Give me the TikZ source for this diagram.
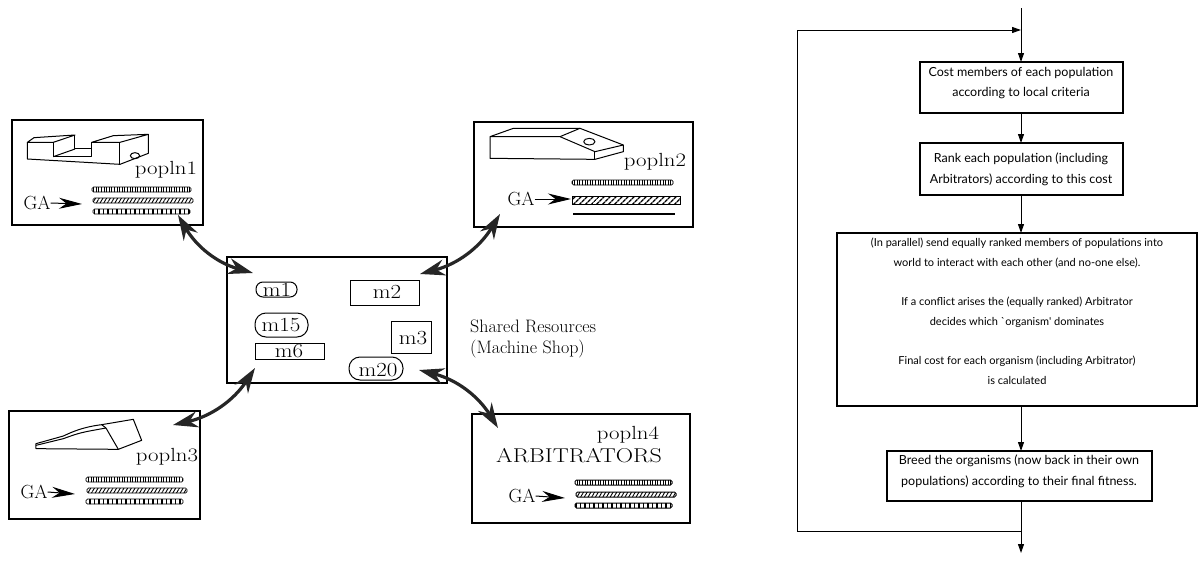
\documentclass[tikz,border=0pt]{standalone}
\usepackage{fontspec}
\newfontfamily\flowfont{Lato}
\usetikzlibrary{arrows.meta,patterns.meta,calc}
\newcommand{\wide}[1]{\scalebox{1.2}[1]{#1}}
\newcommand{\mwide}[1]{\scalebox{1.15}[1]{#1}}
\begin{document}
\begin{tikzpicture}[x=1pt,y=-1pt,
  pbox/.style={draw,line width=1.3pt,inner sep=0pt,outer sep=0pt},
  fbox/.style={draw,line width=1.1pt,inner sep=0pt,outer sep=0pt},
  lbl/.style={inner sep=0pt,font=\fontsize{19}{22}\selectfont},
  mlbl/.style={inner sep=0pt,font=\fontsize{20}{22}\selectfont},
  ftext/.style={inner sep=0pt,align=center,font=\flowfont\fontsize{12.5}{20.5}\selectfont},
  ftextsmall/.style={inner sep=0pt,align=center,font=\flowfont\fontsize{11}{20}\selectfont},
  mach/.style={draw,line width=1pt},
  pill/.style={draw,line width=1pt,rounded corners=7pt},
  barA/.style={draw,line width=0.7pt,rounded corners=1.5pt,pattern={Lines[angle=90,distance=2.6pt,line width=0.8pt]}},
  barB/.style={draw,line width=0.7pt,rounded corners=1.5pt,pattern={Lines[angle=60,distance=3.2pt,line width=0.9pt]}},
  barC/.style={draw,line width=0.7pt,rounded corners=1.5pt,pattern={Lines[angle=90,distance=4.5pt,line width=1.8pt]}},
  barD/.style={draw,line width=0.9pt,pattern={Lines[angle=45,distance=4pt,line width=1.6pt]}},
  gaarrow/.style={line width=1pt,arrows={-Stealth[length=23pt,width=11pt]}},
  dbl/.style={line width=3.2pt,draw=black!85,arrows={Stealth[length=25pt,width=16pt]-Stealth[length=25pt,width=16pt]}},
  farrow/.style={line width=1pt,arrows={-Triangle[length=9pt,width=6pt]}},
  icon/.style={line width=1pt,line join=round}
]
\useasboundingbox (0,0) rectangle (1199,562);

% ---------------- population boxes ----------------
\node[pbox,minimum width=191pt,minimum height=105pt] (p1) at (107.5,172.5) {};
\node[pbox,minimum width=219pt,minimum height=105pt] (p2) at (583.5,174.5) {};
\node[pbox,minimum width=191pt,minimum height=108pt] (p3) at (104.5,465) {};
\node[pbox,minimum width=218pt,minimum height=109pt] (p4) at (581,468.5) {};
\node[pbox,minimum width=220pt,minimum height=126pt] (shop) at (337,320) {};

% labels
\node[lbl] (l1) at (166,170) {\wide{popln1}};
\node[lbl] (l2) at (655,162) {\wide{popln2}};
\node[lbl] (l3) at (167,457) {\wide{popln3}};
\node[lbl] (l4) at (628,435) {\wide{popln4}};
\node[lbl,font=\fontsize{20}{22}\selectfont] (arb) at (579,456) {\wide{ARBITRATORS}};
\node[lbl] (ga1) at (37,203) {GA};
\node[lbl] (ga2) at (521,199) {GA};
\node[lbl] (ga3) at (34,492) {GA};
\node[lbl] (ga4) at (522,496) {GA};
\node[lbl,anchor=west,align=left,font=\fontsize{18}{21}\selectfont] (sr) at (470,338.5) {Shared Resources\\(Machine Shop)};

% GA arrows
\coordinate (g1) at (82,204);
\coordinate (g2) at (571,199);
\coordinate (g3) at (75,494);
\coordinate (g4) at (565,498);
\draw[gaarrow] (ga1.east) -- (g1);
\draw[gaarrow] (ga2.east) -- (g2);
\draw[gaarrow] (ga3.east) -- (g3);
\draw[gaarrow] (ga4.east) -- (g4);

% bars popln1
\path[barA] (92,187) rectangle (191,192);
\path[barB] (93,198) rectangle (193,203);
\path[barC] (93,209) rectangle (190,214);
% bars popln2
\path[barA] (572,180) rectangle (673,185);
\path[barD] (572,196) rectangle (680,204);
\draw[line width=2.8pt] (573,214) -- (675,214);
% bars popln3
\path[barA] (86,477) rectangle (183,482);
\path[barB] (87,488) rectangle (187,493);
\path[barC] (86,499) rectangle (183,504);
% bars popln4
\path[barA,line width=1pt] (575,480) rectangle (672,485);
\path[barB,line width=1pt] (576,492) rectangle (676,497);
\path[barC,line width=1pt] (575,503) rectangle (672,508);

% icons
\begin{scope}[shift={(20,125)},x=0.3333pt,y=-0.3333pt,icon]
  \draw (100,52) -- (22,52) -- (42,38) -- (165,30) -- cycle;
  \draw (22,52) -- (22,102) -- (300,118) -- (385,85) -- (385,28) -- (280,32) -- (215,52) -- (300,52) -- (385,28);
  \draw (300,52) -- (300,118);
  \draw (100,52) -- (100,95) -- (215,95) -- (215,52);
  \draw (165,30) -- (165,72) -- (215,72);
  \draw (100,95) -- (165,72);
  \draw (345,92) ellipse [x radius=14, y radius=9];
\end{scope}
\begin{scope}[shift={(480,120)},x=0.3333pt,y=-0.3333pt,icon]
  \draw (30,50) -- (30,115) -- (345,118) -- (430,95) -- (430,75) -- (300,25) -- (100,25) -- cycle;
  \draw (30,50) -- (240,50) -- (345,95) -- (430,75);
  \draw (345,95) -- (345,118);
  \draw (240,50) -- (300,25);
  \draw (328,65) ellipse [x radius=17, y radius=10];
\end{scope}
\begin{scope}[shift={(30,412)},x=0.3333pt,y=-0.3333pt,icon]
  \draw (18,95) -- (18,110) -- (265,112) -- (335,85) -- (310,22) -- (215,38)
        .. controls (160,45) and (130,58) .. (100,72) -- cycle;
  \draw (18,100) -- (100,80) .. controls (150,62) .. (228,48);
  \draw (228,48) -- (265,112);
  \draw (215,38) -- (228,48);
\end{scope}

% machines
\draw[pill] (256,282) rectangle (297,297);
\node[mlbl] (m1) at (277,290) {\mwide{m1}};
\draw[mach] (350,280) rectangle (419,305);
\node[mlbl] (m2) at (387,292) {\mwide{m2}};
\draw[pill,rounded corners=11pt] (255,313) rectangle (308,337);
\node[mlbl] (m15) at (281,325) {\mwide{m15}};
\draw[mach] (255,343) rectangle (324,359);
\node[mlbl] (m6) at (289,351) {\mwide{m6}};
\draw[mach] (391,321) rectangle (431,353);
\node[mlbl] (m3) at (413,338) {\mwide{m3}};
\draw[pill,rounded corners=11pt,fill=white] (349,357) rectangle (403,380);
\node[mlbl] (m20) at (378,370) {\mwide{m20}};

% double arrows
\coordinate (a1s) at (178,215); \coordinate (a1e) at (253,273);
\coordinate (a2s) at (500,214); \coordinate (a2e) at (420,274);
\coordinate (a3s) at (173,425); \coordinate (a3e) at (255,368);
\coordinate (a4s) at (498,428); \coordinate (a4e) at (419,370);
\draw[dbl] (a1s) to[bend right=22] (a1e);
\draw[dbl] (a2s) to[bend left=22] (a2e);
\draw[dbl] (a3s) to[bend right=22] (a3e);
\draw[dbl] (a4s) to[bend right=22] (a4e);

% ---------------- flowchart ----------------
\node[fbox,minimum width=203pt,minimum height=51pt] (f1) at (1021.5,87.5) {};
\node[fbox,minimum width=203pt,minimum height=52pt] (f2) at (1021.5,169) {};
\node[fbox,minimum width=360pt,minimum height=173pt] (f3) at (1017,319.5) {};
\node[fbox,minimum width=265pt,minimum height=50pt] (f4) at (1019.5,476) {};

\node[ftext] (t1) at (1021,83) {Cost members of each population\\according to local criteria};
\node[ftext] (t2) at (1021,169.5) {Rank each population (including\\Arbitrators) according to this cost};
\node[ftextsmall] (t3) at (1017,311) {(In parallel) send equally ranked members of populations into\\world to interact with each other (and no-one else).\\[19pt]If a conflict arises the (equally ranked) Arbitrator\\decides which `organism' dominates\\[19pt]Final cost for each organism (including Arbitrator)\\is calculated};
\node[ftext] (t4) at (1019,471.5) {Breed the organisms (now back in their own\\populations) according to their final fitness.};

\coordinate (top) at (1021,8);
\coordinate (merge) at (1021,30);
\coordinate (loopT) at (797,30);
\coordinate (loopB) at (797,531);
\coordinate (join) at (1021,531);
\coordinate (out) at (1021,553);

\draw[farrow] (top) -- (f1.north -| top);
\draw[farrow] (f1.south -| top) -- (f2.north -| top);
\draw[farrow] (f2.south -| top) -- (f3.north -| top);
\draw[farrow] (f3.south -| top) -- (f4.north -| top);
\draw[farrow] (f4.south -| top) -- (out);
\draw[farrow] (join) -- (loopB) -- (loopT) -- (merge);
\end{tikzpicture}
\end{document}
